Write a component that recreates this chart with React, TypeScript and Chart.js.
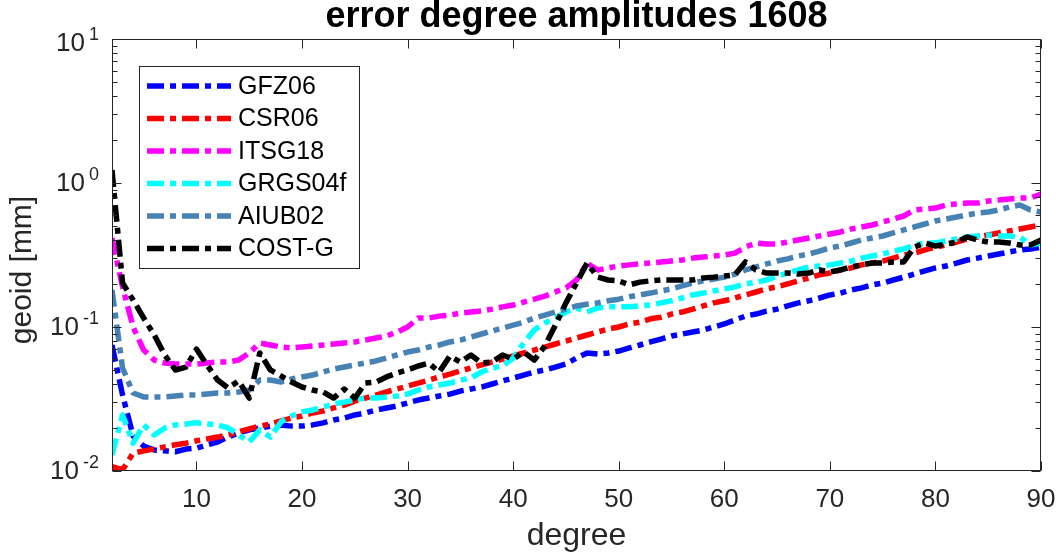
import React, { useEffect, useRef } from "react";
import { Chart, registerables } from "chart.js";

Chart.register(...registerables);

const degrees = [
  2, 3, 4, 5, 6, 7, 8, 9, 10, 11,
  12, 13, 14, 15, 16, 17, 18, 19, 20, 21,
  22, 23, 24, 25, 26, 27, 28, 29, 30, 31,
  32, 33, 34, 35, 36, 37, 38, 39, 40, 41,
  42, 43, 44, 45, 46, 47, 48, 49, 50, 51,
  52, 53, 54, 55, 56, 57, 58, 59, 60, 61,
  62, 63, 64, 65, 66, 67, 68, 69, 70, 71,
  72, 73, 74, 75, 76, 77, 78, 79, 80, 81,
  82, 83, 84, 85, 86, 87, 88, 89, 90,
];

const gfz06 = [
  0.075, 0.0337, 0.0175, 0.0149, 0.014, 0.0138, 0.0136, 0.0142, 0.0144, 0.0152,
  0.0159, 0.0172, 0.0184, 0.0193, 0.0199, 0.0205, 0.0209, 0.0205, 0.0205, 0.0209,
  0.0216, 0.0226, 0.0233, 0.0245, 0.0253, 0.0265, 0.0274, 0.0283, 0.0297, 0.0311,
  0.0321, 0.0332, 0.0342, 0.0359, 0.0371, 0.0383, 0.0402, 0.0422, 0.0442, 0.0464,
  0.0487, 0.0503, 0.0527, 0.0553, 0.0609, 0.066, 0.0649, 0.066, 0.0681, 0.0715,
  0.075, 0.0787, 0.0825, 0.0866, 0.0894, 0.0923, 0.0953, 0.1, 0.105, 0.112,
  0.119, 0.123, 0.129, 0.133, 0.14, 0.147, 0.152, 0.159, 0.167, 0.172,
  0.181, 0.187, 0.196, 0.202, 0.212, 0.222, 0.233, 0.245, 0.257, 0.265,
  0.278, 0.292, 0.301, 0.311, 0.321, 0.332, 0.343, 0.348, 0.359,
];

const csr06 = [
  0.0107, 0.0102, 0.0133, 0.0138, 0.0142, 0.0147, 0.0152, 0.0156, 0.0162, 0.0167,
  0.0172, 0.0178, 0.0187, 0.0196, 0.0205, 0.0212, 0.0223, 0.0233, 0.0241, 0.0253,
  0.0261, 0.0274, 0.0287, 0.0306, 0.0321, 0.0337, 0.0354, 0.0371, 0.0389, 0.0408,
  0.0428, 0.045, 0.0471, 0.0495, 0.0519, 0.0545, 0.0571, 0.0599, 0.0629, 0.066,
  0.0692, 0.0726, 0.0762, 0.0799, 0.0839, 0.088, 0.0923, 0.0968, 0.1, 0.105,
  0.108, 0.114, 0.117, 0.123, 0.127, 0.133, 0.14, 0.147, 0.152, 0.159,
  0.167, 0.175, 0.184, 0.19, 0.199, 0.209, 0.219, 0.23, 0.237, 0.249,
  0.257, 0.27, 0.278, 0.287, 0.301, 0.316, 0.326, 0.343, 0.359, 0.371,
  0.389, 0.408, 0.422, 0.435, 0.45, 0.464, 0.479, 0.495, 0.511,
];

const itsg18 = [
  0.415, 0.19, 0.1, 0.0692, 0.059, 0.0562, 0.0553, 0.0553, 0.0553, 0.0562,
  0.0571, 0.0571, 0.059, 0.066, 0.0774, 0.075, 0.0726, 0.0715, 0.0726, 0.0738,
  0.075, 0.0762, 0.0774, 0.0787, 0.0812, 0.0839, 0.0866, 0.0923, 0.1, 0.1155,
  0.1155, 0.119, 0.121, 0.125, 0.127, 0.129, 0.133, 0.138, 0.142, 0.149,
  0.156, 0.164, 0.175, 0.187, 0.212, 0.278, 0.249, 0.257, 0.265, 0.27,
  0.274, 0.278, 0.283, 0.287, 0.292, 0.301, 0.306, 0.311, 0.316, 0.326,
  0.359, 0.383, 0.377, 0.377, 0.389, 0.402, 0.415, 0.4285, 0.442, 0.457,
  0.479, 0.495, 0.511, 0.536, 0.562, 0.59, 0.649, 0.659, 0.67, 0.703,
  0.714, 0.726, 0.726, 0.75, 0.762, 0.774, 0.787, 0.787, 0.838,
];

const grgs04f = [
  0.0129, 0.0245, 0.0156, 0.0209, 0.0178, 0.0199, 0.0209, 0.0212, 0.0216, 0.0212,
  0.0209, 0.0199, 0.0178, 0.0159, 0.0193, 0.0172, 0.0219, 0.0241, 0.0257, 0.0265,
  0.0278, 0.0292, 0.0301, 0.0311, 0.0321, 0.0321, 0.0327, 0.0332, 0.0342, 0.0365,
  0.0383, 0.0396, 0.0408, 0.0428, 0.0442, 0.0487, 0.0519, 0.0536, 0.0609, 0.0774,
  0.0953, 0.1066, 0.1155, 0.127, 0.1355, 0.127, 0.1355, 0.138, 0.138, 0.138,
  0.14, 0.142, 0.147, 0.152, 0.159, 0.167, 0.172, 0.178, 0.184, 0.19,
  0.199, 0.205, 0.212, 0.226, 0.237, 0.249, 0.261, 0.265, 0.27, 0.278,
  0.287, 0.301, 0.311, 0.321, 0.337, 0.348, 0.371, 0.383, 0.383, 0.396,
  0.408, 0.422, 0.4285, 0.435, 0.4285, 0.4285, 0.422, 0.371, 0.383,
];

const aiub02 = [
  0.181, 0.0519, 0.0348, 0.0327, 0.0327, 0.0327, 0.0332, 0.0337, 0.0337, 0.0342,
  0.0348, 0.0348, 0.0354, 0.0365, 0.0428, 0.0428, 0.0415, 0.0435, 0.045, 0.0464,
  0.0487, 0.0511, 0.0527, 0.0545, 0.0562, 0.0581, 0.0609, 0.0639, 0.067, 0.0692,
  0.0726, 0.075, 0.0787, 0.0812, 0.0852, 0.0894, 0.0938, 0.0984, 0.103, 0.108,
  0.1155, 0.121, 0.127, 0.133, 0.14, 0.144, 0.147, 0.152, 0.156, 0.162,
  0.167, 0.172, 0.178, 0.184, 0.193, 0.202, 0.209, 0.215, 0.222, 0.233,
  0.249, 0.261, 0.274, 0.287, 0.297, 0.311, 0.321, 0.337, 0.354, 0.365,
  0.383, 0.402, 0.415, 0.4285, 0.45, 0.472, 0.495, 0.519, 0.545, 0.562,
  0.581, 0.599, 0.619, 0.629, 0.649, 0.681, 0.703, 0.649, 0.629,
];

const costG = [
  1.23, 0.202, 0.154, 0.1155, 0.088, 0.0639, 0.0503, 0.0527, 0.0703, 0.0545,
  0.0428, 0.0377, 0.0422, 0.0321, 0.066, 0.0503, 0.0457, 0.0415, 0.0383, 0.0365,
  0.0354, 0.0321, 0.0371, 0.0321, 0.0408, 0.0415, 0.045, 0.0479, 0.0503, 0.0536,
  0.0562, 0.0487, 0.0629, 0.0571, 0.0639, 0.0562, 0.0571, 0.0639, 0.0599, 0.067,
  0.059, 0.0738, 0.103, 0.147, 0.202, 0.278, 0.222, 0.212, 0.209, 0.196,
  0.205, 0.209, 0.212, 0.212, 0.212, 0.212, 0.219, 0.222, 0.226, 0.23,
  0.283, 0.249, 0.237, 0.237, 0.237, 0.233, 0.237, 0.249, 0.241, 0.249,
  0.261, 0.27, 0.278, 0.278, 0.283, 0.283, 0.359, 0.383, 0.365, 0.377,
  0.389, 0.422, 0.402, 0.389, 0.389, 0.383, 0.371, 0.371, 0.402,
];

const seriesNames = ["GFZ06", "CSR06", "ITSG18", "GRGS04f", "AIUB02", "COST-G"];
const seriesColors = ["#0000ff", "#ff0000", "#ff00ff", "#00ffff", "#4682b4", "#000000"];
const seriesValues = [gfz06, csr06, itsg18, grgs04f, aiub02, costG];

const xTicks = [10, 20, 30, 40, 50, 60, 70, 80, 90];
const yTickExponents = [-2, -1, 0, 1];

const titleText = "error degree amplitudes 1608";
const xLabel = "degree";
const yLabel = "geoid [mm]";

const FONT = "'Liberation Sans', Arial, Helvetica, sans-serif";
const AXIS_COLOR = "#262626";
const DASH = [17, 6, 6, 6];
const LINE_W = 5.5;

const matlabAxes = {
  id: "matlabAxes",
  afterDraw(chart: any) {
    const ctx: CanvasRenderingContext2D = chart.ctx;
    const area = chart.chartArea;
    const xs = chart.scales.x;
    const ys = chart.scales.y;
    const L = Math.round(area.left) + 0.5;
    const R = Math.round(area.right) - 0.5;
    const T = Math.round(area.top) + 0.5;
    const B = Math.round(area.bottom) - 0.5;
    ctx.save();

    // box
    ctx.strokeStyle = AXIS_COLOR;
    ctx.lineWidth = 1;
    ctx.setLineDash([]);
    ctx.strokeRect(L, T, R - L, B - T);

    // x ticks
    ctx.beginPath();
    for (const v of xTicks) {
      const px = Math.round(xs.getPixelForValue(v)) + 0.5;
      ctx.moveTo(px, B);
      ctx.lineTo(px, B - 9);
      ctx.moveTo(px, T);
      ctx.lineTo(px, T + 9);
    }
    // y ticks major + minor
    for (let e = -2; e <= 1; e++) {
      for (let m = 1; m <= 9; m++) {
        const v = m * Math.pow(10, e);
        const py = Math.round(ys.getPixelForValue(v)) + 0.5;
        const len = m === 1 ? 9 : 5;
        ctx.moveTo(L, py);
        ctx.lineTo(L + len, py);
        ctx.moveTo(R, py);
        ctx.lineTo(R - len, py);
        if (e === 1) break;
      }
    }
    ctx.stroke();

    // x tick labels
    ctx.fillStyle = AXIS_COLOR;
    ctx.font = `26px ${FONT}`;
    ctx.textAlign = "center";
    ctx.textBaseline = "middle";
    for (const v of xTicks) {
      ctx.fillText(String(v), xs.getPixelForValue(v), area.bottom + 29);
    }

    // y tick labels with superscripts
    for (const e of yTickExponents) {
      const py = ys.getPixelForValue(Math.pow(10, e));
      const cy = Math.max(py + 1, area.top + 5);
      const sup = String(e);
      ctx.font = `18px ${FONT}`;
      const sw = ctx.measureText(sup).width;
      ctx.textAlign = "left";
      ctx.fillText(sup, 99 - sw, cy - 9);
      ctx.font = `26px ${FONT}`;
      ctx.textAlign = "right";
      ctx.fillText("10", 99 - sw - 4, cy);
    }

    // axis labels
    const cx = (area.left + area.right) / 2;
    ctx.font = `32px ${FONT}`;
    ctx.textAlign = "center";
    ctx.fillText(xLabel, cx, area.bottom + 65);
    ctx.save();
    ctx.translate(23, 270);
    ctx.rotate(-Math.PI / 2);
    ctx.font = `30px ${FONT}`;
    ctx.fillText(yLabel, 0, 0);
    ctx.restore();

    // title
    ctx.fillStyle = "#000000";
    ctx.font = `bold 36px ${FONT}`;
    ctx.fillText(titleText, cx, 17);

    // legend
    const lx = 139.5, ly = 66.5, lw = 220, lh = 202;
    ctx.fillStyle = "#ffffff";
    ctx.fillRect(lx, ly, lw, lh);
    ctx.strokeStyle = AXIS_COLOR;
    ctx.lineWidth = 1;
    ctx.strokeRect(lx, ly, lw, lh);
    seriesNames.forEach((name, i) => {
      const ry = 86 + i * 32.5;
      ctx.strokeStyle = seriesColors[i];
      ctx.lineWidth = LINE_W;
      ctx.lineCap = "butt";
      ctx.setLineDash(DASH);
      ctx.beginPath();
      ctx.moveTo(147, ry);
      ctx.lineTo(231, ry);
      ctx.stroke();
      ctx.setLineDash([]);
      ctx.fillStyle = "#000000";
      ctx.font = `25px ${FONT}`;
      ctx.textAlign = "left";
      ctx.textBaseline = "middle";
      ctx.fillText(name, 238, ry + 1);
    });

    ctx.restore();
  },
};

export default function App() {
  const ref = useRef<HTMLCanvasElement>(null);
  useEffect(() => {
    if (!ref.current) return;
    const chart = new Chart(ref.current, {
      type: "line",
      data: {
        datasets: seriesNames.map((name, i) => ({
          label: name,
          data: degrees.map((d, k) => ({ x: d, y: seriesValues[i][k] })),
          borderColor: seriesColors[i],
          backgroundColor: seriesColors[i],
          borderWidth: LINE_W,
          borderDash: DASH,
          borderCapStyle: "butt",
          borderJoinStyle: "round",
          pointRadius: 0,
          fill: false,
          tension: 0,
          clip: 0,
          order: seriesNames.length - i,
        })),
      },
      options: {
        responsive: false,
        animation: false,
        devicePixelRatio: 1,
        events: [],
        layout: { padding: { left: 112, right: 15, top: 39, bottom: 85 } },
        plugins: {
          legend: { display: false },
          title: { display: false },
          tooltip: { enabled: false },
        },
        scales: {
          x: { type: "linear", min: 2, max: 90, display: false },
          y: { type: "logarithmic", min: 0.01, max: 10, display: false },
        },
      } as any,
      plugins: [matlabAxes],
    } as any);
    return () => chart.destroy();
  }, []);
  return (
    <div style={{ position: "fixed", left: 0, top: 0, width: 1056, height: 556, background: "#ffffff" }}>
      <canvas ref={ref} width={1056} height={556} style={{ display: "block" }} />
    </div>
  );
}
